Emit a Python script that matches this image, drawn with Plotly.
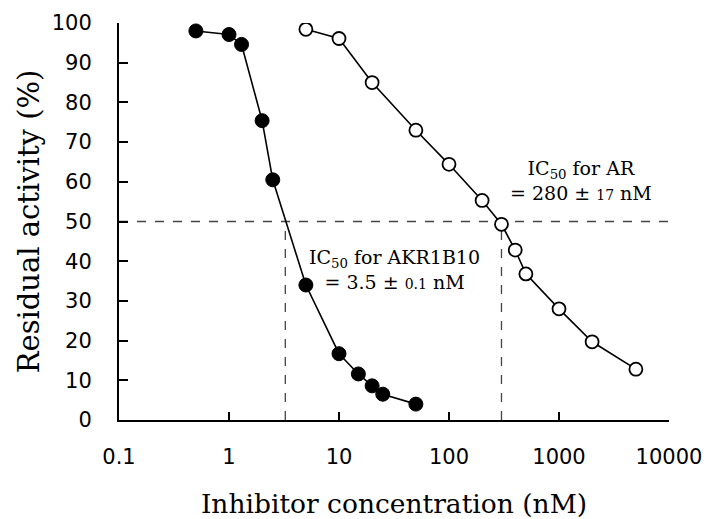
import numpy as np
import plotly.graph_objects as go

# AKR1B10 (filled circles)
akr_conc = [0.5, 1, 1.3, 2, 2.5, 5, 10, 15, 20, 25, 50]
akr_act = [98.0, 97.1, 94.6, 75.4, 60.5, 34.0, 16.7, 11.6, 8.6, 6.5, 4.0]

# AR (open circles)
ar_conc = [5, 10, 20, 50, 100, 200, 300, 400, 500, 1000, 2000, 5000]
ar_act = [98.4, 96.1, 85.0, 73.0, 64.4, 55.3, 49.3, 42.8, 36.8, 28.0, 19.7, 12.8]

ic50_akr_line = 3.25
ic50_ar_line = 300
half = 50

xticks = [0.1, 1, 10, 100, 1000, 10000]
xtick_text = ["0.1", "1", "10", "100", "1000", "10000"]
yticks = [0, 10, 20, 30, 40, 50, 60, 70, 80, 90, 100]

serif = "DejaVu Serif"
sans = "DejaVu Sans"

fig = go.Figure()

dash = dict(color="#444444", width=1.3, dash="dash")
fig.add_trace(go.Scatter(x=[0.1, 10000], y=[half, half], mode="lines", line=dash, hoverinfo="skip"))
fig.add_trace(go.Scatter(x=[ic50_akr_line, ic50_akr_line], y=[0, half], mode="lines", line=dash, hoverinfo="skip"))
fig.add_trace(go.Scatter(x=[ic50_ar_line, ic50_ar_line], y=[0, half], mode="lines", line=dash, hoverinfo="skip"))

fig.add_trace(go.Scatter(
    x=akr_conc, y=akr_act, mode="lines+markers",
    line=dict(color="black", width=1.6),
    marker=dict(symbol="circle", size=14, color="black", line=dict(color="black", width=1)),
))
fig.add_trace(go.Scatter(
    x=ar_conc, y=ar_act, mode="lines+markers",
    line=dict(color="black", width=1.6),
    marker=dict(symbol="circle", size=13, color="white", line=dict(color="black", width=1.8)),
))

fig.add_annotation(
    x=np.log10(32), y=37.8, xref="x", yref="y", showarrow=False,
    text="IC<sub>50</sub> for AKR1B10<br>= 3.5 ± <span style='font-size:14px'>0.1</span> nM",
    font=dict(family=serif, size=19, color="black"), align="center",
    xanchor="center", yanchor="middle",
)
fig.add_annotation(
    x=np.log10(1600), y=60.3, xref="x", yref="y", showarrow=False,
    text="IC<sub>50</sub> for AR<br>= 280 ± <span style='font-size:14px'>17</span> nM",
    font=dict(family=serif, size=19, color="black"), align="center",
    xanchor="center", yanchor="middle",
)

fig.update_layout(
    width=707, height=519,
    margin=dict(l=119, r=38, t=23, b=99),
    paper_bgcolor="white", plot_bgcolor="white",
    showlegend=False,
    xaxis=dict(
        type="log", range=[-1, 4], automargin=False,
        tickvals=xticks, ticktext=xtick_text,
        ticks="inside", ticklen=8, tickwidth=1.8, tickcolor="black",
        showline=True, linecolor="black", linewidth=2,
        showgrid=False, zeroline=False,
        tickfont=dict(family=sans, size=21, color="black"),
        ticklabelstandoff=17,
        title=dict(text="Inhibitor concentration (nM)", font=dict(family=serif, size=26.5, color="black"), standoff=33),
    ),
    yaxis=dict(
        range=[0, 100], tickvals=yticks, automargin=False,
        ticks="inside", ticklen=9, tickwidth=1.8, tickcolor="black",
        showline=True, linecolor="black", linewidth=2,
        showgrid=False, zeroline=False,
        tickfont=dict(family=sans, size=21, color="black"),
        ticklabelstandoff=21,
        title=dict(text="Residual activity (%)", font=dict(family=serif, size=29, color="black"), standoff=4),
    ),
)

fig.write_html("out.html", config={"displayModeBar": False},
               post_script="document.body.style.margin='0';")
